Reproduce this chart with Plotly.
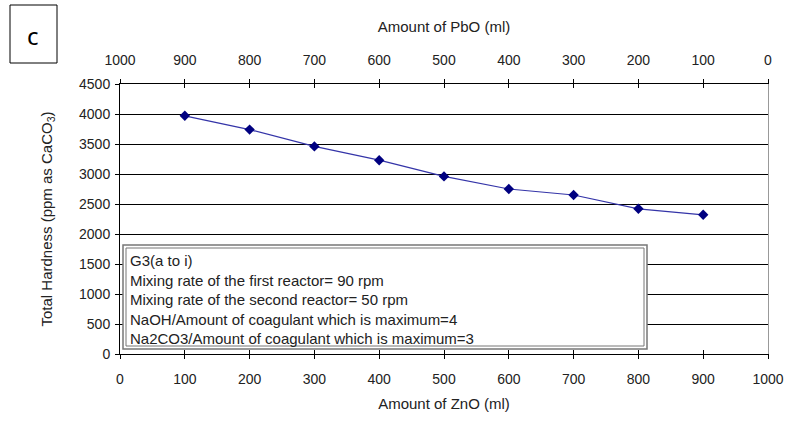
import plotly.graph_objects as go

zno = [100, 200, 300, 400, 500, 600, 700, 800, 900]
hardness = [3970, 3740, 3460, 3230, 2960, 2750, 2650, 2420, 2320]
x_ticks = [0, 100, 200, 300, 400, 500, 600, 700, 800, 900, 1000]
pbo_ticks = [1000, 900, 800, 700, 600, 500, 400, 300, 200, 100, 0]
y_ticks = [0, 500, 1000, 1500, 2000, 2500, 3000, 3500, 4000, 4500]
legend_lines = [
    "G3(a to i)",
    "Mixing rate of the first reactor= 90 rpm",
    "Mixing rate of the second reactor= 50 rpm",
    "NaOH/Amount of coagulant which is maximum=4",
    "Na2CO3/Amount of coagulant which is maximum=3",
]

FONT = "Liberation Sans, Arial, sans-serif"
W, H = 786, 423
L, R, T, B = 120, 18, 84, 69
PW, PH = W - L - R, H - T - B


def px(x):
    return (x - L) / PW


def py(y):
    return (H - B - y) / PH


fig = go.Figure()
fig.add_trace(go.Scatter(
    x=zno, y=hardness, mode="lines+markers",
    line=dict(color="#3434a8", width=1.2),
    marker=dict(symbol="diamond", size=8, color="#000080"),
    showlegend=False,
))

common_tick = dict(color="#222", size=14, family=FONT)
fig.update_layout(
    width=W, height=H,
    margin=dict(l=L, r=R, t=T, b=B, autoexpand=False),
    paper_bgcolor="white", plot_bgcolor="white",
    font=dict(family=FONT, size=14, color="#222"),
    xaxis=dict(range=[0, 1000], tickvals=x_ticks, showgrid=False, zeroline=False,
               ticks="outside", ticklen=4, tickcolor="black", automargin=False,
               showline=True, linecolor="black", linewidth=1, tickfont=common_tick,
               ticklabelstandoff=8,
               title=dict(text="Amount of ZnO (ml)", standoff=12, font=dict(size=15))),
    xaxis2=dict(range=[1000, 0], tickvals=pbo_ticks, overlaying="x", side="top",
                showgrid=False, zeroline=False, ticks="outside", ticklen=4, tickcolor="black",
                showline=True, linecolor="black", linewidth=1, anchor="y", automargin=False,
                tickfont=common_tick, ticklabelstandoff=8,
                title=dict(text="Amount of PbO (ml)", standoff=16, font=dict(size=15))),
    xaxis3=dict(range=[0, 1000], tickvals=x_ticks, overlaying="x", side="bottom",
                showgrid=False, zeroline=False, ticks="inside", ticklen=4, tickcolor="black",
                showticklabels=False, anchor="y", automargin=False),
    xaxis4=dict(range=[1000, 0], tickvals=pbo_ticks, overlaying="x", side="top",
                showgrid=False, zeroline=False, ticks="inside", ticklen=4, tickcolor="black",
                showticklabels=False, anchor="y", automargin=False),
    yaxis=dict(range=[0, 4500], tickvals=y_ticks, showgrid=True, gridcolor="black", gridwidth=1,
               zeroline=False, ticks="outside", ticklen=4, tickcolor="black", automargin=False,
               showline=True, linecolor="black", linewidth=1, tickfont=common_tick,
               ticklabelstandoff=2,
               title=dict(text="Total Hardness (ppm as CaCO<sub>3</sub>)", standoff=22,
                          font=dict(size=15))),
    yaxis2=dict(range=[0, 4500], overlaying="y", side="right", showgrid=False, zeroline=False,
                showticklabels=False, showline=True, linecolor="#999", linewidth=1, anchor="x",
                automargin=False),
    yaxis3=dict(range=[0, 4500], tickvals=y_ticks, overlaying="y", side="left", showgrid=False,
                zeroline=False, ticks="inside", ticklen=4, tickcolor="black",
                showticklabels=False, anchor="x", automargin=False),
)

# dummy traces to activate extra axes
for xa, ya in [("x2", "y"), ("x3", "y"), ("x4", "y"), ("x", "y2"), ("x", "y3")]:
    fig.add_trace(go.Scatter(x=[None], y=[None], xaxis=xa, yaxis=ya, showlegend=False,
                             hoverinfo="skip"))

# legend-like text box with double border
fig.add_shape(type="rect", xref="paper", yref="paper",
              x0=px(123), x1=px(647), y0=py(349), y1=py(245),
              line=dict(color="#777", width=1.5), fillcolor="white", layer="above")
fig.add_shape(type="rect", xref="paper", yref="paper",
              x0=px(126), x1=px(644), y0=py(346), y1=py(248),
              line=dict(color="#777", width=1), fillcolor="white", layer="above")
fig.add_annotation(
    xref="paper", yref="paper", x=px(128), y=py(250), xanchor="left", yanchor="top",
    text="<br>".join(legend_lines), showarrow=False, align="left",
    font=dict(family=FONT, size=15, color="#222"),
)

# "c" panel label box
fig.add_shape(type="rect", xref="paper", yref="paper",
              x0=px(10), x1=px(57), y0=py(63), y1=py(5),
              line=dict(color="black", width=1), fillcolor="white")
fig.add_annotation(
    xref="paper", yref="paper", x=px(33), y=py(36), xanchor="center", yanchor="middle",
    showarrow=False, text="c", font=dict(family="Noto Sans, Open Sans, sans-serif", size=24,
                                           color="black"),
)

fig.write_html("out.html", config={"displayModeBar": False},
               post_script="document.body.style.margin='0';")
